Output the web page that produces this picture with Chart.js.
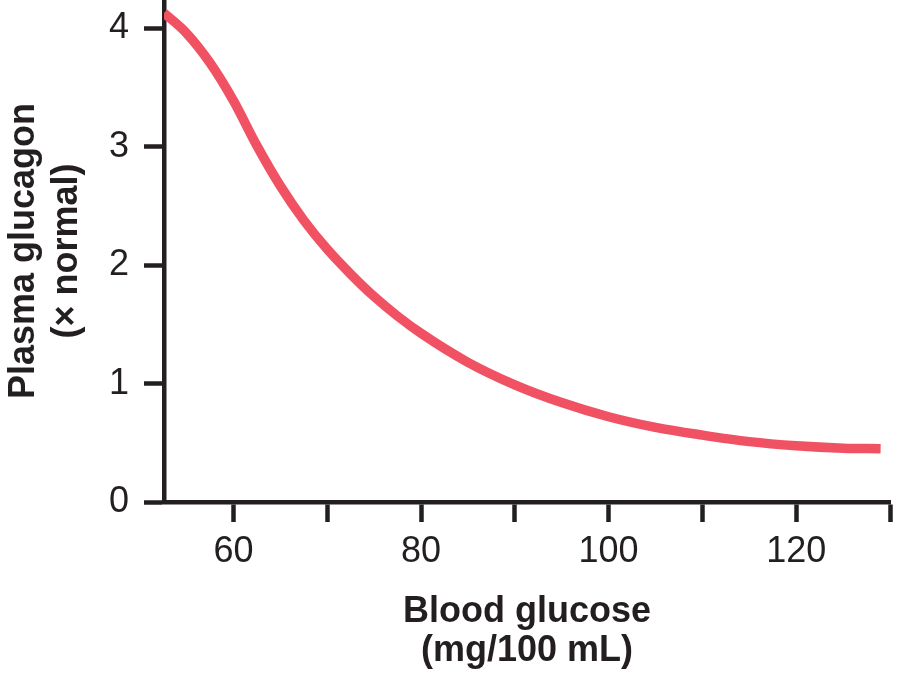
<!DOCTYPE html>
<html>
<head>
<meta charset="utf-8">
<title>Plasma glucagon vs blood glucose</title>
<script src="https://cdn.jsdelivr.net/npm/chart.js@4.4.1/dist/chart.umd.min.js"></script>
<style>
    html, body { margin: 0; padding: 0; background: #ffffff; }
    #wrap { width: 912px; height: 693px; position: relative; }
</style>
</head>
<body>
<div id="wrap"><canvas id="chart"></canvas></div>
<script>
// Blood glucose (mg/100 mL)
var glucose = [52.6, 55, 57.5, 60, 62.5, 65, 67.5, 70, 72.5, 75, 77.5, 80, 85, 90, 95, 100, 105, 110, 115, 120, 125, 129];
// Plasma glucagon (x normal)
var glucagon = [4.13, 3.96, 3.71, 3.39, 3.01, 2.67, 2.38, 2.135, 1.925, 1.735, 1.57, 1.425, 1.18, 0.99, 0.84, 0.72, 0.63, 0.565, 0.51, 0.475, 0.455, 0.45];

// Tick labels shown on the x axis (others get a bare tick mark)
var xLabels = [60, 80, 100, 120];

var axisColor = "#231f20";
var lineColor = "#f05263";

function buildPoints()
{
    var pts = [];
    for (var i = 0; i < glucose.length; ++i)
    {
        pts.push({x: glucose[i], y: glucagon[i]});
    }
    return pts;
}

var ctx = document.getElementById("chart").getContext("2d");

var chart = new Chart(ctx, {
    type: "line",
    data: {
        datasets: [{
            data: buildPoints(),
            borderColor: lineColor,
            borderWidth: 9.5,
            pointRadius: 0,
            fill: false,
            cubicInterpolationMode: "monotone",
            borderCapStyle: "butt"
        }]
    },
    options: {
        responsive: true,
        maintainAspectRatio: false,
        animation: false,
        events: [],
        layout: {
            padding: {left: 0, right: 22, top: 0, bottom: 0}
        },
        plugins: {
            legend: {display: false},
            tooltip: {enabled: false}
        },
        scales: {
            x: {
                type: "linear",
                min: 52.6,
                max: 130,
                afterFit: function(scale){
                    scale.height = 191;
                    scale.paddingLeft = 0;
                    scale.paddingRight = 0;
                },
                border: {display: true, color: axisColor, width: 4.5},
                grid: {
                    drawOnChartArea: false,
                    drawTicks: true,
                    tickLength: 20,
                    tickWidth: 4.5,
                    tickColor: axisColor
                },
                ticks: {
                    stepSize: 10,
                    includeBounds: false,
                    autoSkip: false,
                    maxRotation: 0,
                    padding: 8,
                    color: axisColor,
                    font: {family: "'Liberation Sans', Arial, sans-serif", size: 36},
                    callback: function(value){
                        return xLabels.indexOf(value) >= 0 ? value.toString() : "";
                    }
                },
                title: {
                    display: true,
                    text: ["Blood glucose", "(mg/100 mL)"],
                    color: axisColor,
                    font: {family: "'Liberation Sans', Arial, sans-serif", size: 36, weight: "bold", lineHeight: 1.07},
                    padding: {top: 0, bottom: 23}
                }
            },
            y: {
                type: "linear",
                min: 0,
                max: 4.24,
                afterFit: function(scale){
                    scale.width = 164;
                    scale.paddingTop = 0;
                    scale.paddingBottom = 0;
                },
                border: {display: true, color: axisColor, width: 4.5},
                grid: {
                    drawOnChartArea: false,
                    drawTicks: true,
                    tickLength: 20,
                    tickWidth: 4.5,
                    tickColor: axisColor
                },
                ticks: {
                    stepSize: 1,
                    includeBounds: false,
                    padding: 15,
                    color: axisColor,
                    font: {family: "'Liberation Sans', Arial, sans-serif", size: 36}
                },
                title: {
                    display: true,
                    text: ["Plasma glucagon", "(\u00d7 normal)"],
                    color: axisColor,
                    font: {family: "'Liberation Sans', Arial, sans-serif", size: 36, weight: "bold", lineHeight: 1.2},
                    padding: {top: 2, bottom: 0}
                }
            }
        }
    }
});
</script>
</body>
</html>
